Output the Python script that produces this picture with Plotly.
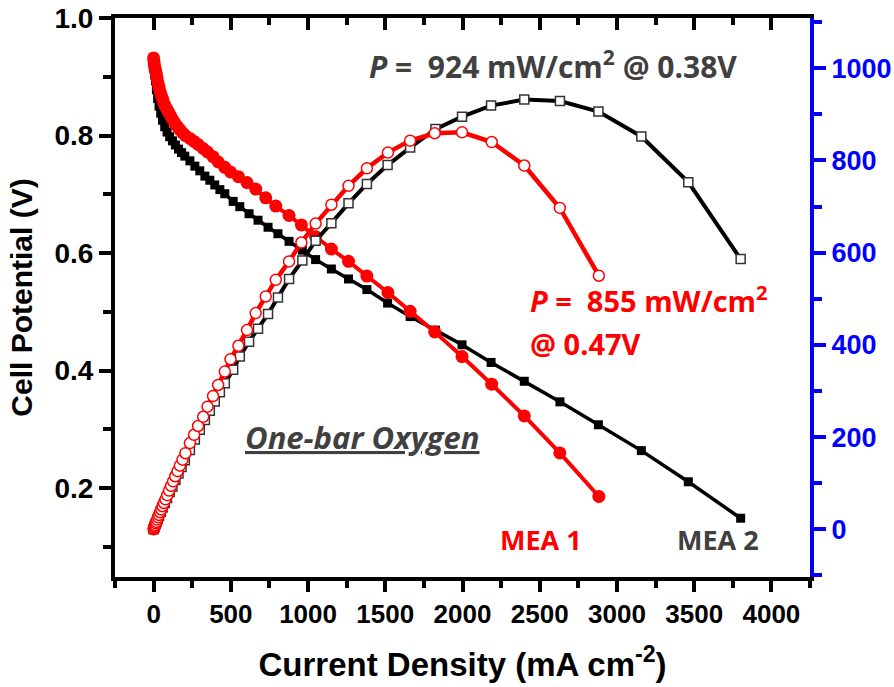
import plotly.graph_objects as go

# ---------------- data ----------------
# MEA 1 (red): current density (mA/cm2), cell potential (V), power density (mW/cm2)
I1 = [0, 2, 4, 7, 10, 14, 18, 23, 29, 35, 42, 50, 58, 67, 77, 88, 100, 113, 126, 140,
      155, 170, 187, 206, 235, 262, 288, 321, 349, 385, 418, 461, 498, 549, 605, 661,
      726, 791, 877, 957, 1049, 1151, 1262, 1381, 1517, 1661, 1820, 1997, 2189, 2400,
      2630, 2883]
V1 = [0.932, 0.927, 0.922, 0.917, 0.913, 0.909, 0.904, 0.897, 0.889, 0.882, 0.875, 0.868,
      0.862, 0.855, 0.849, 0.844, 0.838, 0.832, 0.826, 0.820, 0.815, 0.810, 0.805, 0.800,
      0.795, 0.790, 0.785, 0.778, 0.772, 0.764, 0.755, 0.746, 0.738, 0.730, 0.720, 0.709,
      0.694, 0.680, 0.664, 0.648, 0.628, 0.607, 0.586, 0.561, 0.533, 0.501, 0.466, 0.424,
      0.377, 0.323, 0.260, 0.186]
P1 = [0, 2, 4, 6, 9, 13, 16, 21, 26, 31, 37, 43, 50, 57, 65, 74, 84, 94, 104, 115,
      126, 138, 151, 165, 187, 205, 224, 244, 266, 289, 313, 342, 369, 398, 432, 469,
      505, 541, 581, 622, 663, 704, 745, 783, 817, 843, 859, 861, 840, 789, 697, 550]

# MEA 2 (black)
I2 = [0, 3, 7, 12, 18, 26, 35, 46, 58, 72, 87, 104, 122, 141, 161, 181, 202, 235, 267,
      299, 332, 364, 396, 429, 461, 515, 558, 618, 676, 741, 805, 877, 963, 1049, 1151,
      1262, 1381, 1515, 1661, 1825, 1997, 2185, 2400, 2631, 2880, 3158, 3462, 3801]
V2 = [0.922, 0.913, 0.903, 0.893, 0.878, 0.863, 0.850, 0.838, 0.826, 0.815, 0.806, 0.798,
      0.791, 0.784, 0.777, 0.771, 0.765, 0.757, 0.748, 0.740, 0.731, 0.724, 0.716, 0.708,
      0.701, 0.688, 0.679, 0.667, 0.656, 0.644, 0.633, 0.620, 0.605, 0.589, 0.573, 0.556,
      0.538, 0.515, 0.492, 0.469, 0.444, 0.414, 0.382, 0.347, 0.308, 0.264, 0.211, 0.149]
P2 = [0, 3, 6, 11, 15, 22, 29, 38, 47, 57, 68, 81, 93, 107, 121, 135, 150, 172, 195,
      216, 237, 257, 277, 297, 317, 346, 375, 407, 435, 467, 503, 543, 583, 626, 664,
      707, 749, 790, 828, 868, 895, 919, 932, 929, 906, 852, 753, 586]

x_ticks = [0, 500, 1000, 1500, 2000, 2500, 3000, 3500, 4000]
y_ticks = [0.2, 0.4, 0.6, 0.8, 1.0]
y2_ticks = [0, 200, 400, 600, 800, 1000]

RED = "#FF0000"
BLUE = "#0000FF"
GRAY = "#404040"
AXFONT = "Liberation Sans, Arial, sans-serif"
TXTFONT = "Open Sans, Noto Sans, sans-serif"

fig = go.Figure()

fig.add_trace(go.Scatter(
    x=I2, y=V2, mode="lines+markers", name="MEA 2 V",
    line=dict(color="black", width=3.5),
    marker=dict(symbol="square", size=9, color="black", line=dict(width=0)),
    xaxis="x", yaxis="y", showlegend=False))
fig.add_trace(go.Scatter(
    x=I1, y=V1, mode="lines+markers", name="MEA 1 V",
    line=dict(color=RED, width=4),
    marker=dict(symbol="circle", size=13, color=RED, line=dict(width=0)),
    xaxis="x", yaxis="y", showlegend=False))
fig.add_trace(go.Scatter(
    x=I2, y=P2, mode="lines+markers", name="MEA 2 P",
    line=dict(color="black", width=4),
    marker=dict(symbol="square", size=9, color="white", line=dict(color="#333333", width=1.5)),
    xaxis="x", yaxis="y2", showlegend=False))
fig.add_trace(go.Scatter(
    x=I1, y=P1, mode="lines+markers", name="MEA 1 P",
    line=dict(color=RED, width=4.5),
    marker=dict(symbol="circle", size=11, color="white", line=dict(color=RED, width=1.5)),
    xaxis="x", yaxis="y2", showlegend=False))
# dummy trace for the top (mirror) axis with inward ticks
fig.add_trace(go.Scatter(x=[None], y=[None], xaxis="x3", yaxis="y",
                         showlegend=False, hoverinfo="skip"))

XR = [-250, 4250]
YR = [0.049, 1.0]
Y2R = [-103.5, 1109]

fig.update_layout(
    width=894, height=687,
    margin=dict(l=115, r=83.5, t=18, b=110),
    paper_bgcolor="white", plot_bgcolor="white",
    xaxis=dict(
        range=XR, tickmode="array", tickvals=x_ticks, automargin=False,
        ticks="outside", ticklen=11, tickwidth=4, tickcolor="black",
        showline=True, linewidth=4, linecolor="black",
        showgrid=False, zeroline=False,
        minor=dict(dtick=250, tick0=0, ticks="outside", ticklen=7, tickwidth=4, tickcolor="black"),
        tickfont=dict(family=AXFONT, size=26, color="black", weight="bold"),
        title=dict(text="Current Density (mA cm<sup>-2</sup>)",
                   font=dict(family=AXFONT, size=33, color="black", weight="bold"),
                   standoff=26),
    ),
    xaxis3=dict(
        range=XR, overlaying="x", side="top", anchor="y", automargin=False,
        tickmode="array", tickvals=x_ticks, showticklabels=False,
        ticks="inside", ticklen=12, tickwidth=4, tickcolor="black",
        showline=True, linewidth=4, linecolor="black",
        showgrid=False, zeroline=False,
        minor=dict(dtick=250, tick0=0, ticks="inside", ticklen=7, tickwidth=4, tickcolor="black"),
    ),
    yaxis=dict(
        range=YR, tickmode="array", tickvals=y_ticks, ticktext=["0.2", "0.4", "0.6", "0.8", "1.0"],
        automargin=False,
        ticks="outside", ticklen=12, tickwidth=4, tickcolor="black",
        showline=True, linewidth=4, linecolor="black",
        showgrid=False, zeroline=False,
        minor=dict(dtick=0.1, tick0=0, ticks="outside", ticklen=8, tickwidth=4, tickcolor="black"),
        tickfont=dict(family=AXFONT, size=28, color="black", weight="bold"),
        title=dict(text="Cell Potential (V)",
                   font=dict(family=AXFONT, size=30, color="black", weight="bold"),
                   standoff=14),
    ),
    yaxis2=dict(
        range=Y2R, overlaying="y", side="right", anchor="x", automargin=False,
        tickmode="array", tickvals=y2_ticks,
        ticks="outside", ticklen=12, tickwidth=4, tickcolor=BLUE,
        showline=True, linewidth=4, linecolor=BLUE,
        showgrid=False, zeroline=False,
        minor=dict(dtick=100, tick0=0, ticks="outside", ticklen=8, tickwidth=4, tickcolor=BLUE),
        tickfont=dict(family=AXFONT, size=27, color=BLUE, weight="bold"),
    ),
)

ann = [
    dict(text="<i>P</i> =  924 mW/cm<sup>2</sup> @ 0.38V", x=2586, y=0.920, color=GRAY, xanchor="center", size=30),
    dict(text="<i>P</i> =  855 mW/cm<sup>2</sup>", x=2424, y=0.522, color=RED, xanchor="left", size=29),
    dict(text="@ 0.47V", x=2424, y=0.447, color=RED, xanchor="left", size=29),
    dict(text="<u><i>One-bar Oxygen</i></u>", x=1350, y=0.287, color=GRAY, xanchor="center", size=31),
    dict(text="MEA 1", x=2507, y=0.112, color=RED, xanchor="center", size=27),
    dict(text="MEA 2", x=3657, y=0.112, color=GRAY, xanchor="center", size=27),
]
for a in ann:
    fig.add_annotation(
        text=a["text"], x=a["x"], y=a["y"], xref="x", yref="y",
        xanchor=a["xanchor"], yanchor="middle", showarrow=False,
        font=dict(family=TXTFONT, size=a["size"], color=a["color"], weight="bold"))

fig.write_html("out.html")
